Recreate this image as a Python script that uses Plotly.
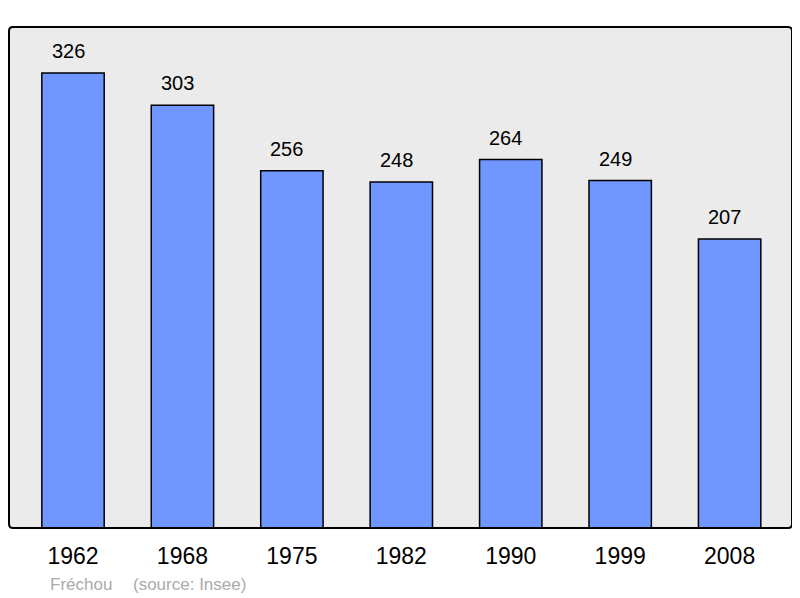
import plotly.graph_objects as go

years = ["1962", "1968", "1975", "1982", "1990", "1999", "2008"]
population = [326, 303, 256, 248, 264, 249, 207]
commune = "Fréchou"
source = "(source: Insee)"

# the page body has an 8px margin, so the figure is sized to fill the rest
OFF = 8
W, H = 800 - OFF, 598 - OFF
L, R, T, B = 9 - OFF, 8, 27 - OFF, 70
PW, PH = W - L - R, H - T - B
FONT = "Liberation Sans, Arial, sans-serif"

fig = go.Figure()
fig.add_trace(go.Bar(
    x=years, y=population, width=0.57,
    marker=dict(color="#7096ff", line=dict(color="#000000", width=1.5)),
    hoverinfo="skip",
))

for i, v in enumerate(population):
    fig.add_annotation(x=i, y=v, text=str(v), showarrow=False, yshift=22, xshift=-5,
                       yanchor="middle", font=dict(size=20, color="#000000", family=FONT))

def px_x(p):
    return (p - OFF - L) / PW

def px_y(p):
    return (H - B - (p - OFF)) / PH

fig.add_annotation(xref="paper", yref="paper", x=px_x(48), y=px_y(584),
                   xanchor="left", yanchor="middle", showarrow=False, text=commune,
                   font=dict(size=17, color="#aaaaaa", family=FONT))
fig.add_annotation(xref="paper", yref="paper", x=px_x(131), y=px_y(584),
                   xanchor="left", yanchor="middle", showarrow=False, text=source,
                   font=dict(size=17, color="#aaaaaa", family=FONT))

# frame with slightly rounded corners
rx, ry = 4 / PW, 4 / PH
frame = (f"M {rx},0 L {1-rx},0 Q 1,0 1,{ry} L 1,{1-ry} Q 1,1 {1-rx},1 "
         f"L {rx},1 Q 0,1 0,{1-ry} L 0,{ry} Q 0,0 {rx},0 Z")
fig.add_shape(type="path", xref="paper", yref="paper", path=frame,
              line=dict(color="#000000", width=2), layer="above")

fig.update_layout(
    width=W, height=H,
    margin=dict(l=L, r=R, t=T, b=B),
    paper_bgcolor="#ffffff",
    plot_bgcolor="#ebebeb",
    showlegend=False,
    font=dict(family=FONT, color="#000000"),
    xaxis=dict(type="category", range=[-0.585, 6.57], showgrid=False, zeroline=False,
               showline=False, ticks="", tickfont=dict(size=23), ticklabelstandoff=12),
    yaxis=dict(range=[0, 359], showgrid=False, zeroline=False, showticklabels=False,
               showline=False, ticks=""),
)

fig.write_html("out.html")
